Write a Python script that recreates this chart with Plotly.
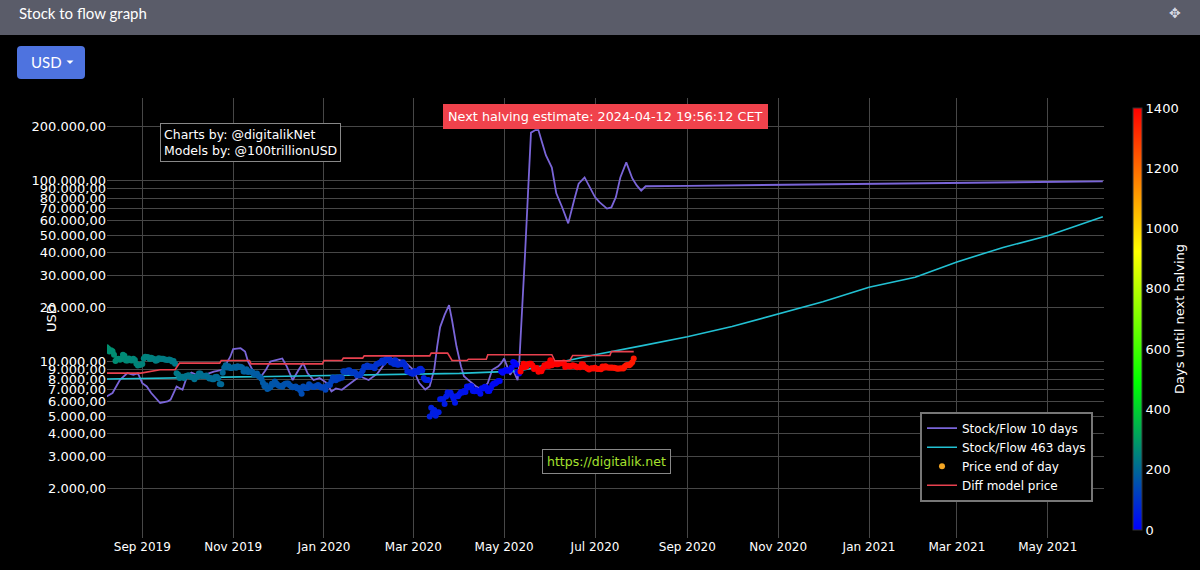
import plotly.graph_objects as go
import pandas as pd

# ---------------- data ----------------
price_start = "2019-08-08"
price_2019_08 = [11982, 11810, 11347, 11530, 11382, 10896, 10052, 10312, 10359, 10232, 10345, 10917,
                 10764, 10142, 10132, 10408, 10160, 10147, 10359, 10186, 9722, 9498, 9577, 9608]
price_2019_09 = [9686, 10382, 10624, 10595, 10576, 10332, 10481, 10402, 10337, 10115, 10179, 10410,
                 10360, 10358, 10347, 10277, 10241, 10198, 10267, 10181, 10019, 10070, 9729, 8621,
                 8486, 8118, 8252, 8245, 8104, 8293]
price_2019_10 = [8344, 8394, 8260, 8205, 8151, 7988, 8245, 8228, 8596, 8587, 8321, 8336, 8321, 8375,
                 8205, 8047, 8103, 7973, 7988, 8222, 8243, 8078, 7514, 7493, 8660, 9244, 9551, 9256,
                 9427, 9205, 9199]
price_2019_11 = [9261, 9324, 9235, 9412, 9342, 9360, 9267, 8804, 8813, 9055, 8757, 8815, 8808, 8708,
                 8491, 8550, 8577, 8309, 8206, 8027, 7642, 7296, 7397, 7047, 7146, 7218, 7531, 7463,
                 7761, 7569]
price_2019_12 = [7424, 7321, 7320, 7252, 7448, 7546, 7556, 7564, 7400, 7278, 7217, 7243, 7269, 7124,
                 7152, 6932, 6640, 7277, 7150, 7187, 7132, 7501, 7325, 7275, 7238, 7290, 7317, 7422,
                 7293, 7193, 7193]
price_2020_01 = [7200, 6985, 7345, 7410, 7411, 7769, 8163, 8079, 7879, 8166, 8037, 8192, 8144, 8827,
                 8807, 8723, 8929, 8942, 8706, 8658, 8745, 8680, 8406, 8445, 8368, 8597, 8910, 9358,
                 9316, 9508, 9350]
price_2020_02 = [9392, 9344, 9293, 9181, 9613, 9729, 9795, 9866, 10116, 9856, 10208, 10327, 10214,
                 10312, 9889, 9934, 9704, 10164, 9633, 9608, 9686, 9663, 9924, 9650, 9342, 8820, 8784,
                 8672, 8599]
price_2020_03 = [8562, 8869, 8787, 8755, 9078, 9122, 8909, 8108, 7923, 7909, 7911, 4970, 5563, 5200,
                 5392, 5014, 5225, 5238, 6191, 6198, 6185, 5830, 6416, 6734, 6681, 6716, 6469, 6242,
                 5922, 6429, 6438]
price_2020_04 = [6606, 6793, 6733, 6868, 6791, 7271, 7176, 7334, 7302, 6865, 6859, 6971, 6845, 6842,
                 6642, 7116, 7096, 7257, 7189, 6881, 6880, 7117, 7429, 7550, 7569, 7679, 7795, 7807,
                 8801, 8658]
price_2020_05 = [8864, 8988, 8897, 8912, 9003, 9268, 9951, 9842, 9593, 8756, 8601, 8804, 9269, 9733,
                 9328, 9377, 9670, 9726, 9729, 9522, 9081, 9182, 9210, 8790, 8906, 8835, 9181, 9525,
                 9439, 9700, 9461]
price_2020_06 = [10167, 9529, 9656, 9800, 9665, 9653, 9758, 9771, 9795, 9870, 9321, 9480, 9475, 9386,
                 9450, 9538, 9480, 9411, 9288, 9332, 9303, 9648, 9629, 9313, 9264, 9162, 9045, 9143,
                 9190, 9137]
price_2020_07 = [9228, 9123, 9087, 9132, 9073, 9375, 9252, 9428, 9277, 9278, 9240, 9277, 9243, 9243,
                 9192, 9132, 9151, 9159, 9185, 9164, 9374, 9525, 9581, 9536, 9677, 9905, 10400]

halving_2020 = "2020-05-11 19:23:00"
next_halving_estimate = "2024-04-12 19:56:12"

sf10_dates = ["2019-08-08", "2019-08-12", "2019-08-17", "2019-08-22", "2019-08-26", "2019-08-29",
              "2019-09-01", "2019-09-04", "2019-09-07", "2019-09-11", "2019-09-13", "2019-09-18",
              "2019-09-20", "2019-09-22", "2019-09-24", "2019-09-28", "2019-10-01", "2019-10-04",
              "2019-10-10", "2019-10-19", "2019-10-25", "2019-10-30", "2019-11-01", "2019-11-06",
              "2019-11-09", "2019-11-11", "2019-11-14", "2019-11-19", "2019-11-23", "2019-11-26",
              "2019-11-30", "2019-12-04", "2019-12-07", "2019-12-11", "2019-12-15", "2019-12-18",
              "2019-12-21", "2019-12-25", "2019-12-29", "2020-01-03", "2020-01-06", "2020-01-09",
              "2020-01-13", "2020-01-19", "2020-01-25", "2020-01-31", "2020-02-06", "2020-02-11",
              "2020-02-17", "2020-02-24", "2020-03-01", "2020-03-05", "2020-03-09", "2020-03-12",
              "2020-03-15", "2020-03-17", "2020-03-19", "2020-03-22", "2020-03-25", "2020-03-27",
              "2020-03-30", "2020-04-02", "2020-04-04", "2020-04-07", "2020-04-12", "2020-04-16",
              "2020-04-20", "2020-04-23", "2020-04-27", "2020-04-29", "2020-05-01", "2020-05-03",
              "2020-05-05", "2020-05-07", "2020-05-10", "2020-05-11", "2020-05-13", "2020-05-15",
              "2020-05-17", "2020-05-19", "2020-05-22", "2020-05-24", "2020-05-26", "2020-05-29",
              "2020-06-02", "2020-06-05", "2020-06-09", "2020-06-13", "2020-06-17", "2020-06-20",
              "2020-06-24", "2020-06-27", "2020-07-01", "2020-07-04", "2020-07-09", "2020-07-12",
              "2020-07-15", "2020-07-18", "2020-07-22", "2020-07-26", "2020-07-29", "2020-08-01",
              "2020-08-04", "2020-09-01", "2021-01-01", "2021-06-07"]
sf10_values = [6410, 6700, 7930, 8630, 8450, 8630,
               7600, 7280, 6700, 6160, 5900, 6020,
               6160, 6700, 7280, 6980, 8270, 8700,
               8270, 8800, 9000, 10600, 11700, 11850,
               11350, 10000, 9000, 8100, 9000, 10000,
               10200, 10400, 9400, 7900, 9000, 9800,
               8600, 7900, 8100, 7600, 6830, 7100,
               6980, 7600, 8300, 7900, 8600, 9800,
               10400, 10000, 9000, 7600, 7000, 7300,
               9000, 12100, 15500, 18100, 20500, 16900,
               12100, 9400, 8300, 7900, 7300, 7000,
               7600, 9000, 9400, 9800, 10400, 9400,
               8450, 9000, 7900, 9400, 17700, 39000,
               85000, 184000, 190000, 190000, 167000, 138000,
               118000, 85000, 71000, 58000, 78000, 96000,
               104000, 94000, 81000, 76000, 70000, 71000,
               81000, 104000, 126000, 103000, 94000, 88000,
               93000, 93500, 96000, 99000]

sf463_dates = ["2019-08-08", "2019-10-01", "2019-12-01", "2020-02-01", "2020-04-01", "2020-05-10",
               "2020-06-01", "2020-07-01", "2020-08-01", "2020-09-01", "2020-10-01", "2020-11-01",
               "2020-12-01", "2021-01-01", "2021-02-01", "2021-03-01", "2021-04-01", "2021-05-01",
               "2021-06-07"]
sf463_values = [8000, 8150, 8300, 8450, 8600, 8850,
                9700, 10900, 12200, 13700, 15600, 18300,
                21400, 25700, 29200, 35500, 42700, 49500,
                63000]

diff_dates = ["2019-08-08", "2019-08-31", "2019-09-13", "2019-09-23", "2019-09-26", "2019-10-23",
              "2019-10-24", "2019-11-12", "2019-11-13", "2019-12-31", "2020-01-01", "2020-01-13",
              "2020-01-14", "2020-01-27", "2020-01-28", "2020-03-12", "2020-03-13", "2020-03-24",
              "2020-03-27", "2020-04-06", "2020-04-07", "2020-04-19", "2020-04-20", "2020-06-02",
              "2020-06-04", "2020-06-14", "2020-06-16", "2020-07-11", "2020-07-12", "2020-07-27"]
diff_values = [8630, 8630, 9000, 9000, 9800, 9800,
               10130, 10130, 9700, 9700, 10130, 10130,
               10440, 10440, 10750, 10750, 11130, 11130,
               10130, 10130, 10300, 10300, 10900, 10900,
               10100, 10100, 10800, 10800, 11350, 11350]

y_tick_values = [2000, 3000, 4000, 5000, 6000, 7000, 8000, 9000, 10000,
                 20000, 30000, 40000, 50000, 60000, 70000, 80000, 90000, 100000, 200000]

# ---------------- derived ----------------
price_values = (price_2019_08 + price_2019_09 + price_2019_10 + price_2019_11 + price_2019_12 +
                price_2020_01 + price_2020_02 + price_2020_03 + price_2020_04 + price_2020_05 +
                price_2020_06 + price_2020_07)
price_dates = pd.date_range(price_start, periods=len(price_values), freq="D")
h1 = pd.Timestamp(halving_2020)
h2 = pd.Timestamp(next_halving_estimate)
days_until = [(h1 - d).days if d < h1 else (h2 - d).days for d in price_dates]

# ---------------- layout helpers (pixel -> paper) ----------------
W, H = 1200, 570
L, R, T, B = 107, 96, 98, 32
PW, PH = W - L - R, H - T - B


def px(v):
    return (v - L) / PW


def py(v):
    return (H - B - v) / PH


colorscale = [[0.0, "rgb(0,0,255)"], [0.35, "rgb(0,255,0)"], [0.66, "rgb(255,255,0)"],
              [1.0, "rgb(255,0,0)"]]

fig = go.Figure()
fig.add_trace(go.Scatter(x=sf10_dates, y=sf10_values, mode="lines", name="Stock/Flow 10 days",
                         line=dict(color="#7a65d8", width=1.8)))
fig.add_trace(go.Scatter(x=sf463_dates, y=sf463_values, mode="lines", name="Stock/Flow 463 days",
                         line=dict(color="#22c1d3", width=1.6)))
fig.add_trace(go.Scatter(x=[None], y=[None], mode="markers", name="Price end of day",
                         marker=dict(color="#f5a623", size=6)))
fig.add_trace(go.Scatter(x=price_dates, y=price_values, mode="markers", name="Price end of day",
                         showlegend=False,
                         marker=dict(size=6, color=days_until, cmin=0, cmax=1400,
                                     colorscale=colorscale, showscale=True,
                                     colorbar=dict(x=px(1133), xanchor="left", xpad=0,
                                                   y=py(319), yanchor="middle", ypad=0,
                                                   len=422 / PH, lenmode="fraction",
                                                   thickness=9, outlinewidth=1,
                                                   outlinecolor="#333", tick0=0, dtick=200,
                                                   ticks="", tickfont=dict(size=13, color="white"),
                                                   title=dict(text="Days until next halving",
                                                              side="right",
                                                              font=dict(size=13, color="white"))))))
fig.add_trace(go.Scatter(x=diff_dates, y=diff_values, mode="lines", name="Diff model price",
                         line=dict(color="#e8414f", width=1.6)))

# rounded USD button path
bx0, bx1, by0, by1, r = 17, 85, 46, 79, 4


def P(x, y):
    return f"{px(x)},{py(y)}"


button_path = (f"M {P(bx0 + r, by0)} L {P(bx1 - r, by0)} Q {P(bx1, by0)} {P(bx1, by0 + r)} "
               f"L {P(bx1, by1 - r)} Q {P(bx1, by1)} {P(bx1 - r, by1)} "
               f"L {P(bx0 + r, by1)} Q {P(bx0, by1)} {P(bx0, by1 - r)} "
               f"L {P(bx0, by0 + r)} Q {P(bx0, by0)} {P(bx0 + r, by0)} Z")
caret_path = f"M {P(66.5, 60.5)} L {P(73.5, 60.5)} L {P(70, 64)} Z"

shapes = [
    dict(type="rect", xref="paper", yref="paper", x0=px(0), x1=px(W), y0=py(35), y1=py(0),
         fillcolor="#5a5c69", line=dict(width=0), layer="below"),
    dict(type="path", xref="paper", yref="paper", path=button_path, fillcolor="#4e73df",
         line=dict(width=0)),
    dict(type="path", xref="paper", yref="paper", path=caret_path, fillcolor="white",
         line=dict(width=0)),
]

annotations = [
    dict(text="Stock to flow graph", xref="paper", yref="paper", x=px(17), y=py(13),
         xanchor="left", yanchor="middle", showarrow=False,
         font=dict(family="Lato", size=15, color="white")),
    dict(text="✥", xref="paper", yref="paper", x=px(1175), y=py(13), xanchor="center",
         yanchor="middle", showarrow=False, font=dict(size=14, color="#d5d8e3")),
    dict(text="USD", xref="paper", yref="paper", x=px(29), y=py(62), xanchor="left",
         yanchor="middle", showarrow=False, font=dict(family="Lato", size=15, color="white")),
    dict(text="USD", xref="paper", yref="paper", x=px(51), y=py(318), textangle=-90,
         xanchor="center", yanchor="middle", showarrow=False, font=dict(size=13, color="white")),
    dict(text="Charts by: @digitalikNet<br>Models by: @100trillionUSD", xref="paper",
         yref="paper", x=px(250.5), y=py(142.5), xanchor="center", yanchor="middle",
         align="left", showarrow=False, bgcolor="black", bordercolor="#888", borderwidth=1,
         borderpad=3, font=dict(size=12.5, color="white")),
    dict(text="Next halving estimate: 2024-04-12 19:56:12 CET", xref="paper", yref="paper",
         x=px(605.5), y=py(116.5), xanchor="center", yanchor="middle", showarrow=False,
         bgcolor="#f0424c", bordercolor="#f0424c", borderwidth=1, borderpad=4,
         font=dict(size=12.8, color="white")),
    dict(text="https://digitalik.net", xref="paper", yref="paper", x=px(606), y=py(461),
         xanchor="center", yanchor="middle", showarrow=False, bgcolor="black",
         bordercolor="#888", borderwidth=1, borderpad=4, font=dict(size=12.5, color="#a6e22e")),
]

fig.update_layout(
    width=W, height=H,
    margin=dict(l=L, r=R, t=T, b=B),
    paper_bgcolor="black", plot_bgcolor="black",
    font=dict(family="DejaVu Sans", color="white", size=12),
    separators=",.",
    showlegend=True,
    legend=dict(x=px(920), y=py(411.7), xanchor="left", yanchor="top", bgcolor="black",
                bordercolor="#777", borderwidth=2, font=dict(size=12, color="white")),
    shapes=shapes,
    annotations=annotations,
    xaxis=dict(type="date", range=["2019-08-08 07:00", "2021-06-07 19:00"], tick0="2019-09-01",
               dtick="M2", tickformat="%b %Y", showgrid=True, gridcolor="#474747", gridwidth=1,
               zeroline=False, showline=False, ticks="", tickfont=dict(size=12, color="white")),
    yaxis=dict(type="log", range=[3.025, 5.456], tickvals=y_tick_values, tickformat=",.2f",
               showgrid=True, gridcolor="#474747", gridwidth=1, zeroline=False, showline=False,
               ticks="", tickfont=dict(size=13, color="white")),
)

fig.write_html("out.html", config={"displayModeBar": False},
               post_script="document.body.style.margin='0';document.body.style.overflow='hidden';"
                           "document.body.style.background='black';")
